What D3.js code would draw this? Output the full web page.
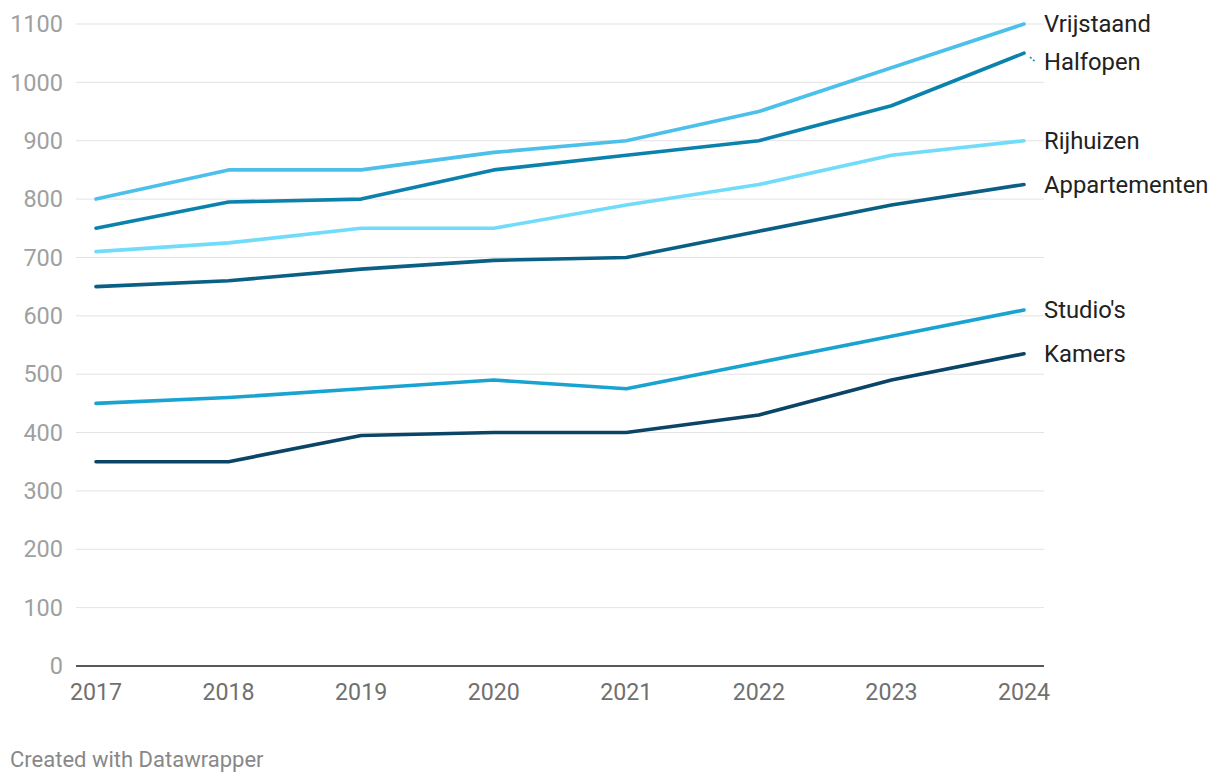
<!DOCTYPE html>
<html><head><meta charset="utf-8">
<script src="https://cdn.jsdelivr.net/npm/d3@7/dist/d3.min.js"></script>
<style>body{margin:0;background:#fff;font-family:Roboto,sans-serif}</style>
</head><body><svg id="c" width="1220" height="782"></svg>
<script>
const years = [2017, 2018, 2019, 2020, 2021, 2022, 2023, 2024];
const yTicks = [0, 100, 200, 300, 400, 500, 600, 700, 800, 900, 1000, 1100];
const seriesNames = ["Vrijstaand", "Halfopen", "Rijhuizen", "Appartementen", "Studio's", "Kamers"];
const vrijstaand = [800, 850, 850, 880, 900, 950, 1025, 1100];
const halfopen = [750, 795, 800, 850, 875, 900, 960, 1050];
const rijhuizen = [710, 725, 750, 750, 790, 825, 875, 900];
const appartementen = [650, 660, 680, 695, 700, 745, 790, 825];
const studios = [450, 460, 475, 490, 475, 520, 565, 610];
const kamers = [350, 350, 395, 400, 400, 430, 490, 535];
const colors = ["#4bc0ea", "#0b82ab", "#70dcfa", "#0a5f84", "#19a3d1", "#0a4466"];
const labelY = [1100, 1035, 900, 825, 610, 535]; // label value positions

const values = [vrijstaand, halfopen, rijhuizen, appartementen, studios, kamers];
const svg = d3.select("#c");
const x = d3.scaleLinear().domain([2017, 2024]).range([96, 1024]);
const y = d3.scaleLinear().domain([0, 1100]).range([666, 24]);

svg.append("g").selectAll("line").data(yTicks.filter(d => d > 0)).join("line")
  .attr("x1", 76).attr("x2", 1044).attr("y1", d => y(d)).attr("y2", d => y(d))
  .attr("stroke", "#e3e3e3").attr("stroke-width", 1);

svg.append("g").selectAll("text").data(yTicks).join("text")
  .attr("x", 63).attr("y", d => y(d)).attr("dy", "0.35em").attr("text-anchor", "end")
  .attr("fill", "#a0a0a0").attr("font-size", 23.5).text(d => d);

svg.append("line").attr("x1", 76).attr("x2", 1044).attr("y1", y(0)).attr("y2", y(0))
  .attr("stroke", "#222").attr("stroke-width", 1.5);

svg.append("g").selectAll("text").data(years).join("text")
  .attr("x", d => x(d)).attr("y", 692).attr("dy", "0.35em").attr("text-anchor", "middle")
  .attr("fill", "#707070").attr("font-size", 23.2).text(d => d);

const line = d3.line().x((d, i) => x(years[i])).y(d => y(d));
svg.append("g").selectAll("path").data(values).join("path")
  .attr("d", d => line(d)).attr("fill", "none")
  .attr("stroke", (d, i) => colors[i]).attr("stroke-width", 3.6)
  .attr("stroke-linejoin", "round").attr("stroke-linecap", "round");

svg.append("line").attr("x1", x(2024) + 6).attr("y1", y(halfopen[7]) + 4)
  .attr("x2", x(2024) + 12).attr("y2", y(halfopen[7]) + 9)
  .attr("stroke", colors[1]).attr("stroke-width", 1.5).attr("stroke-dasharray", "2,2");

svg.append("g").selectAll("text").data(seriesNames).join("text")
  .attr("x", 1044).attr("y", (d, i) => y(labelY[i])).attr("dy", "0.35em")
  .attr("fill", "#222").attr("font-size", 23.8).text(d => d);

svg.append("text").attr("x", 10).attr("y", 759).attr("dy", "0.35em")
  .attr("fill", "#888").attr("font-size", 22).text("Created with Datawrapper");
</script></body></html>
